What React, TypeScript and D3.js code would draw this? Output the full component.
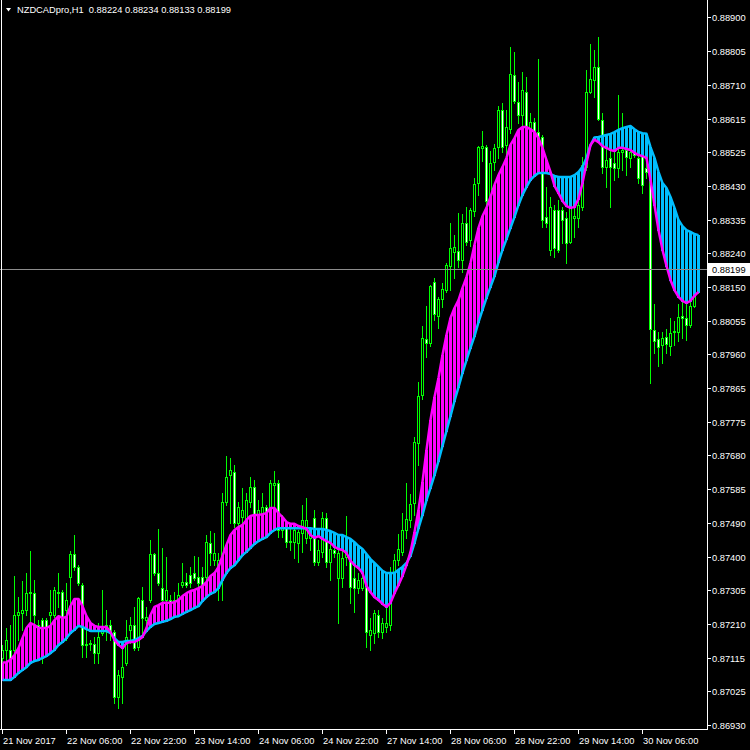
import React from 'react';
import * as d3 from 'd3';

const symbolTitle = 'NZDCADpro,H1';
const lastQuote = [0.88224, 0.88234, 0.88133, 0.88199];
const bidPrice = 0.88199;

const opens = [
  0.87117, 0.87139, 0.87139, 0.87139, 0.87236, 0.87242, 0.87250, 0.87297, 0.87297, 0.87208,
  0.87222, 0.87222, 0.87236, 0.87236, 0.87297, 0.87300, 0.87250, 0.87342, 0.87406, 0.87370,
  0.87320, 0.87153, 0.87156, 0.87156, 0.87130, 0.87186, 0.87203, 0.87208, 0.87189, 0.87008,
  0.87064, 0.87103, 0.87195, 0.87208, 0.87147, 0.87278, 0.87222, 0.87278, 0.87406, 0.87353,
  0.87311, 0.87278, 0.87278, 0.87270, 0.87272, 0.87320, 0.87328, 0.87348, 0.87353, 0.87342,
  0.87342, 0.87342, 0.87437, 0.87389, 0.87356, 0.87362, 0.87551, 0.87626, 0.87634, 0.87492,
  0.87509, 0.87495, 0.87551, 0.87593, 0.87515, 0.87515, 0.87537, 0.87520, 0.87598, 0.87604,
  0.87473, 0.87478, 0.87442, 0.87439, 0.87437, 0.87465, 0.87451, 0.87451, 0.87506, 0.87384,
  0.87412, 0.87506, 0.87384, 0.87417, 0.87339, 0.87339, 0.87398, 0.87395, 0.87339, 0.87311,
  0.87311, 0.87314, 0.87181, 0.87186, 0.87236, 0.87189, 0.87203, 0.87208, 0.87356, 0.87389,
  0.87412, 0.87473, 0.87501, 0.87548, 0.87715, 0.87849, 0.88005, 0.87994, 0.88164, 0.88069,
  0.88116, 0.88141, 0.88208, 0.88247, 0.88250, 0.88225, 0.88328, 0.88280, 0.88361, 0.88439,
  0.88537, 0.88539, 0.88392, 0.88498, 0.88539, 0.88642, 0.88545, 0.88589, 0.88740, 0.88665,
  0.88628, 0.88693, 0.88587, 0.88609, 0.88581, 0.88567, 0.88345, 0.88253, 0.88364, 0.88364,
  0.88364, 0.88342, 0.88275, 0.88342, 0.88342, 0.88372, 0.88484, 0.88693, 0.88726, 0.88762,
  0.88615, 0.88484, 0.88509, 0.88495, 0.88481, 0.88525, 0.88531, 0.88509, 0.88525, 0.88509,
  0.88517, 0.88481, 0.88470, 0.88030, 0.88005, 0.87988, 0.88010, 0.87985, 0.88024, 0.88024,
  0.88069, 0.88063, 0.88044, 0.88097, 0.88224,
];

const highs = [
  0.87153, 0.87200, 0.87208, 0.87345, 0.87286, 0.87331, 0.87353, 0.87414, 0.87334, 0.87222,
  0.87228, 0.87228, 0.87306, 0.87314, 0.87353, 0.87306, 0.87325, 0.87414, 0.87459, 0.87375,
  0.87325, 0.87203, 0.87167, 0.87175, 0.87214, 0.87306, 0.87250, 0.87222, 0.87195, 0.87083,
  0.87147, 0.87222, 0.87231, 0.87259, 0.87286, 0.87314, 0.87259, 0.87445, 0.87409, 0.87476,
  0.87423, 0.87398, 0.87292, 0.87300, 0.87325, 0.87381, 0.87353, 0.87370, 0.87401, 0.87398,
  0.87370, 0.87459, 0.87470, 0.87465, 0.87409, 0.87576, 0.87679, 0.87673, 0.87654, 0.87551,
  0.87590, 0.87576, 0.87621, 0.87612, 0.87556, 0.87576, 0.87543, 0.87612, 0.87637, 0.87612,
  0.87515, 0.87495, 0.87481, 0.87490, 0.87473, 0.87543, 0.87562, 0.87473, 0.87529, 0.87445,
  0.87523, 0.87520, 0.87445, 0.87465, 0.87417, 0.87431, 0.87512, 0.87417, 0.87398, 0.87353,
  0.87395, 0.87395, 0.87228, 0.87250, 0.87250, 0.87228, 0.87259, 0.87370, 0.87406, 0.87462,
  0.87520, 0.87604, 0.87573, 0.87732, 0.87885, 0.88041, 0.88097, 0.88155, 0.88175, 0.88122,
  0.88161, 0.88216, 0.88328, 0.88294, 0.88356, 0.88353, 0.88372, 0.88370, 0.88453, 0.88542,
  0.88584, 0.88545, 0.88528, 0.88548, 0.88654, 0.88662, 0.88642, 0.88818, 0.88804, 0.88720,
  0.88748, 0.88734, 0.88634, 0.88620, 0.88784, 0.88573, 0.88428, 0.88400, 0.88378, 0.88392,
  0.88372, 0.88358, 0.88383, 0.88383, 0.88428, 0.88512, 0.88754, 0.88826, 0.88810, 0.88846,
  0.88634, 0.88559, 0.88573, 0.88559, 0.88684, 0.88634, 0.88545, 0.88539, 0.88551, 0.88523,
  0.88537, 0.88498, 0.88489, 0.88102, 0.88024, 0.88024, 0.88033, 0.88063, 0.88055, 0.88102,
  0.88108, 0.88102, 0.88122, 0.88230, 0.88234,
];

const lows = [
  0.87103, 0.87111, 0.87111, 0.87133, 0.87167, 0.87195, 0.87236, 0.87200, 0.87167, 0.87167,
  0.87103, 0.87189, 0.87203, 0.87231, 0.87259, 0.87231, 0.87167, 0.87231, 0.87362, 0.87320,
  0.87119, 0.87119, 0.87139, 0.87103, 0.87103, 0.87181, 0.87167, 0.87167, 0.86991, 0.86977,
  0.86991, 0.87097, 0.87158, 0.87139, 0.87139, 0.87186, 0.87203, 0.87272, 0.87348, 0.87320,
  0.87272, 0.87270, 0.87270, 0.87264, 0.87270, 0.87314, 0.87314, 0.87314, 0.87334, 0.87306,
  0.87297, 0.87306, 0.87375, 0.87375, 0.87278, 0.87278, 0.87543, 0.87492, 0.87481, 0.87487,
  0.87453, 0.87481, 0.87537, 0.87495, 0.87492, 0.87453, 0.87465, 0.87478, 0.87478, 0.87453,
  0.87453, 0.87426, 0.87417, 0.87395, 0.87384, 0.87412, 0.87437, 0.87417, 0.87375, 0.87375,
  0.87398, 0.87370, 0.87334, 0.87398, 0.87214, 0.87314, 0.87375, 0.87270, 0.87245, 0.87297,
  0.87306, 0.87147, 0.87139, 0.87158, 0.87175, 0.87172, 0.87189, 0.87195, 0.87325, 0.87375,
  0.87403, 0.87451, 0.87481, 0.87515, 0.87654, 0.87838, 0.87955, 0.87985, 0.88058, 0.88035,
  0.88094, 0.88136, 0.88141, 0.88175, 0.88205, 0.88191, 0.88267, 0.88264, 0.88347, 0.88406,
  0.88500, 0.88358, 0.88383, 0.88475, 0.88509, 0.88525, 0.88512, 0.88578, 0.88662, 0.88606,
  0.88595, 0.88587, 0.88537, 0.88567, 0.88559, 0.88317, 0.88317, 0.88239, 0.88233, 0.88247,
  0.88272, 0.88216, 0.88272, 0.88289, 0.88317, 0.88364, 0.88475, 0.88690, 0.88679, 0.88615,
  0.88467, 0.88428, 0.88372, 0.88447, 0.88456, 0.88475, 0.88461, 0.88484, 0.88512, 0.88439,
  0.88411, 0.88453, 0.87882, 0.87966, 0.87930, 0.87938, 0.87966, 0.87960, 0.87988, 0.87999,
  0.88008, 0.88002, 0.88038, 0.88094, 0.88133,
];

const closes = [
  0.87139, 0.87167, 0.87117, 0.87236, 0.87245, 0.87250, 0.87297, 0.87300, 0.87236, 0.87200,
  0.87203, 0.87195, 0.87245, 0.87306, 0.87300, 0.87231, 0.87278, 0.87406, 0.87370, 0.87325,
  0.87153, 0.87156, 0.87158, 0.87130, 0.87175, 0.87203, 0.87208, 0.87189, 0.87008, 0.87069,
  0.87091, 0.87175, 0.87208, 0.87144, 0.87284, 0.87228, 0.87231, 0.87406, 0.87353, 0.87325,
  0.87278, 0.87306, 0.87270, 0.87278, 0.87292, 0.87328, 0.87320, 0.87325, 0.87339, 0.87325,
  0.87320, 0.87439, 0.87409, 0.87409, 0.87389, 0.87551, 0.87621, 0.87640, 0.87492, 0.87537,
  0.87529, 0.87556, 0.87593, 0.87509, 0.87529, 0.87537, 0.87515, 0.87604, 0.87604, 0.87473,
  0.87481, 0.87439, 0.87440, 0.87473, 0.87467, 0.87501, 0.87501, 0.87465, 0.87384, 0.87417,
  0.87506, 0.87384, 0.87420, 0.87409, 0.87409, 0.87395, 0.87412, 0.87314, 0.87311, 0.87334,
  0.87339, 0.87189, 0.87195, 0.87242, 0.87189, 0.87214, 0.87214, 0.87334, 0.87389, 0.87420,
  0.87473, 0.87504, 0.87545, 0.87718, 0.87846, 0.88008, 0.87994, 0.88152, 0.88074, 0.88116,
  0.88144, 0.88211, 0.88258, 0.88261, 0.88225, 0.88328, 0.88275, 0.88364, 0.88436, 0.88539,
  0.88542, 0.88389, 0.88495, 0.88537, 0.88642, 0.88539, 0.88595, 0.88743, 0.88667, 0.88628,
  0.88698, 0.88595, 0.88609, 0.88581, 0.88567, 0.88336, 0.88328, 0.88372, 0.88258, 0.88253,
  0.88336, 0.88272, 0.88372, 0.88347, 0.88378, 0.88489, 0.88693, 0.88729, 0.88762, 0.88617,
  0.88484, 0.88503, 0.88484, 0.88481, 0.88525, 0.88531, 0.88512, 0.88525, 0.88517, 0.88453,
  0.88434, 0.88470, 0.88033, 0.87999, 0.87982, 0.88008, 0.87991, 0.88021, 0.88027, 0.88066,
  0.88063, 0.88044, 0.88097, 0.88219, 0.88199,
];

const fastMA = [
  0.87103, 0.87105, 0.87111, 0.87125, 0.87144, 0.87172, 0.87200, 0.87214, 0.87208, 0.87200,
  0.87200, 0.87200, 0.87206, 0.87222, 0.87233, 0.87228, 0.87231, 0.87261, 0.87281, 0.87281,
  0.87261, 0.87233, 0.87214, 0.87206, 0.87203, 0.87203, 0.87203, 0.87189, 0.87167, 0.87153,
  0.87144, 0.87158, 0.87161, 0.87161, 0.87167, 0.87175, 0.87200, 0.87236, 0.87259, 0.87264,
  0.87270, 0.87270, 0.87270, 0.87272, 0.87278, 0.87289, 0.87297, 0.87303, 0.87306, 0.87311,
  0.87317, 0.87328, 0.87345, 0.87353, 0.87370, 0.87401, 0.87431, 0.87459, 0.87473, 0.87481,
  0.87487, 0.87501, 0.87512, 0.87515, 0.87515, 0.87517, 0.87520, 0.87534, 0.87534, 0.87520,
  0.87509, 0.87495, 0.87490, 0.87490, 0.87484, 0.87481, 0.87476, 0.87459, 0.87451, 0.87456,
  0.87448, 0.87442, 0.87437, 0.87426, 0.87420, 0.87417, 0.87409, 0.87387, 0.87375, 0.87367,
  0.87353, 0.87317, 0.87300, 0.87286, 0.87278, 0.87267, 0.87259, 0.87270, 0.87297, 0.87320,
  0.87345, 0.87375, 0.87412, 0.87467, 0.87529, 0.87607, 0.87696, 0.87779, 0.87843, 0.87896,
  0.87960, 0.88016, 0.88063, 0.88091, 0.88113, 0.88147, 0.88177, 0.88216, 0.88267, 0.88314,
  0.88347, 0.88370, 0.88400, 0.88434, 0.88461, 0.88484, 0.88509, 0.88545, 0.88564, 0.88587,
  0.88595, 0.88595, 0.88589, 0.88581, 0.88564, 0.88537, 0.88503, 0.88470, 0.88431, 0.88411,
  0.88389, 0.88375, 0.88370, 0.88372, 0.88395, 0.88439, 0.88495, 0.88545, 0.88560, 0.88553,
  0.88542, 0.88537, 0.88531, 0.88528, 0.88537, 0.88537, 0.88534, 0.88531, 0.88523, 0.88517,
  0.88514, 0.88509, 0.88448, 0.88378, 0.88308, 0.88253, 0.88208, 0.88169, 0.88141, 0.88122,
  0.88111, 0.88105, 0.88111, 0.88125, 0.88136,
];

const slowMA = [
  0.87055, 0.87055, 0.87055, 0.87064, 0.87075, 0.87083, 0.87091, 0.87103, 0.87108, 0.87111,
  0.87117, 0.87122, 0.87130, 0.87139, 0.87153, 0.87161, 0.87172, 0.87186, 0.87195, 0.87206,
  0.87203, 0.87197, 0.87192, 0.87192, 0.87192, 0.87192, 0.87192, 0.87186, 0.87172, 0.87161,
  0.87161, 0.87164, 0.87164, 0.87167, 0.87172, 0.87178, 0.87192, 0.87203, 0.87211, 0.87214,
  0.87217, 0.87220, 0.87225, 0.87231, 0.87233, 0.87239, 0.87245, 0.87250, 0.87256, 0.87261,
  0.87275, 0.87286, 0.87295, 0.87300, 0.87311, 0.87334, 0.87353, 0.87367, 0.87375, 0.87389,
  0.87403, 0.87412, 0.87423, 0.87434, 0.87442, 0.87448, 0.87453, 0.87465, 0.87473, 0.87478,
  0.87478, 0.87478, 0.87478, 0.87478, 0.87478, 0.87478, 0.87478, 0.87478, 0.87476, 0.87476,
  0.87476, 0.87473, 0.87470, 0.87465, 0.87459, 0.87459, 0.87453, 0.87448, 0.87439, 0.87428,
  0.87420, 0.87406, 0.87392, 0.87381, 0.87370, 0.87359, 0.87353, 0.87353, 0.87353, 0.87362,
  0.87370, 0.87381, 0.87401, 0.87437, 0.87478, 0.87515, 0.87556, 0.87590, 0.87626, 0.87665,
  0.87707, 0.87749, 0.87790, 0.87832, 0.87871, 0.87910, 0.87946, 0.87980, 0.88013, 0.88052,
  0.88086, 0.88119, 0.88150, 0.88180, 0.88219, 0.88253, 0.88283, 0.88314, 0.88345, 0.88378,
  0.88406, 0.88428, 0.88448, 0.88459, 0.88467, 0.88467, 0.88467, 0.88464, 0.88459, 0.88456,
  0.88456, 0.88456, 0.88456, 0.88461, 0.88470, 0.88484, 0.88509, 0.88545, 0.88566, 0.88567,
  0.88570, 0.88573, 0.88576, 0.88581, 0.88587, 0.88592, 0.88595, 0.88598, 0.88589, 0.88581,
  0.88578, 0.88576, 0.88539, 0.88509, 0.88470, 0.88439, 0.88425, 0.88400, 0.88370, 0.88336,
  0.88319, 0.88308, 0.88303, 0.88297, 0.88294,
];

const timeLabels = [
  '21 Nov 2017', '22 Nov 06:00', '22 Nov 22:00', '23 Nov 14:00', '24 Nov 06:00', '24 Nov 22:00',
  '27 Nov 14:00', '28 Nov 06:00', '28 Nov 22:00', '29 Nov 14:00', '30 Nov 06:00',
];
const barsPerTimeLabel = 16;

const priceLabels = [
  '0.88900', '0.88805', '0.88710', '0.88615', '0.88525', '0.88430', '0.88335', '0.88240',
  '0.88150', '0.88055', '0.87960', '0.87865', '0.87775', '0.87680', '0.87585', '0.87490',
  '0.87400', '0.87305', '0.87210', '0.87115', '0.87025', '0.86930',
];

const FONT = '"Liberation Sans", Arial, sans-serif';
const GREEN = '#00ff00';
const MAGENTA = '#ff00ff';
const SKY = '#00bfff';

export default function App() {
  const W = 750;
  const H = 750;
  const plotRight = 707;
  const plotBottom = 729;

  const x = d3.scaleLinear().domain([0, 1]).range([2.5, 6.5]);
  const y = d3.scaleLinear().domain([0.869188, 0.889487]).range([plotBottom, 0]);
  const py = (v: number) => Math.round(y(v));

  const n = opens.length;
  const idx = d3.range(n);

  const candles = idx.map((i) => {
    const cx = x(i);
    const o = opens[i];
    const c = closes[i];
    const top = py(Math.max(o, c));
    const bot = py(Math.min(o, c));
    const bear = c < o;
    return (
      <g key={'c' + i}>
        <line x1={cx} x2={cx} y1={py(highs[i])} y2={py(lows[i]) + 1} stroke={GREEN} strokeWidth={1} />
        {bot > top ? (
          <rect x={cx - 1} y={top + 0.5} width={2} height={bot - top} fill={bear ? '#ffffff' : '#000000'} stroke={GREEN} strokeWidth={1} />
        ) : (
          <line x1={cx - 1.5} x2={cx + 1.5} y1={top + 0.5} y2={top + 0.5} stroke={GREEN} strokeWidth={1} />
        )}
      </g>
    );
  });

  const hist = idx.map((i) => {
    const a = py(fastMA[i]);
    const b = py(slowMA[i]);
    const t = Math.min(a, b);
    const h = Math.abs(a - b) + 1;
    return (
      <rect key={'h' + i} x={x(i) - 1.5} y={t} width={3} height={h} fill={fastMA[i] >= slowMA[i] ? MAGENTA : SKY} />
    );
  });

  const line = d3
    .line<number>()
    .x((_, i) => x(i))
    .y((v) => y(v));

  const firstY = y(parseFloat(priceLabels[0]));
  const lastY = y(parseFloat(priceLabels[priceLabels.length - 1]));
  const stepY = (lastY - firstY) / (priceLabels.length - 1);

  const bidY = py(bidPrice) + 0.5;
  const fmt = (v: number) => v.toFixed(5);

  return (
    <div style={{ position: 'absolute', left: 0, top: 0, width: W, height: H }}>
      <svg width={W} height={H} style={{ display: 'block', background: '#000' }} fontFamily={FONT}>
        <rect x={0} y={0} width={W} height={H} fill="#000" />
        <g shapeRendering="crispEdges">{candles}</g>
        <g shapeRendering="crispEdges">{hist}</g>
        <path d={line(slowMA) || ''} fill="none" stroke={SKY} strokeWidth={2.5} strokeLinejoin="round" />
        <path d={line(fastMA) || ''} fill="none" stroke={MAGENTA} strokeWidth={2.5} strokeLinejoin="round" />

        <g shapeRendering="crispEdges">
          <line x1={0} x2={plotRight} y1={bidY} y2={bidY} stroke="#8c8c8c" strokeWidth={1} />
          <line x1={plotRight + 0.5} x2={plotRight + 0.5} y1={0} y2={plotBottom + 1} stroke="#fff" />
          <line x1={0} x2={plotRight + 1} y1={plotBottom + 0.5} y2={plotBottom + 0.5} stroke="#fff" />
          <line x1={1.5} x2={1.5} y1={0} y2={plotBottom + 1} stroke="#fff" />
          {priceLabels.map((lab, k) => {
            const ty = Math.round(firstY + k * stepY) + 0.5;
            return <line key={'yt' + k} x1={plotRight} x2={plotRight + 4} y1={ty} y2={ty} stroke="#fff" />;
          })}
          {timeLabels.map((lab, k) => {
            const tx = Math.floor(x(k * barsPerTimeLabel)) + 0.5;
            return <line key={'xt' + k} x1={tx} x2={tx} y1={plotBottom} y2={plotBottom + 5} stroke="#fff" />;
          })}
        </g>

        {priceLabels.map((lab, k) => {
          const ty = Math.round(firstY + k * stepY);
          return (
            <text key={'yl' + k} x={712} y={ty + 3.5} fill="#fff" fontSize={9.3}>
              {lab}
            </text>
          );
        })}
        {timeLabels.map((lab, k) => {
          const tx = Math.floor(x(k * barsPerTimeLabel));
          return (
            <text key={'xl' + k} x={tx + 1} y={743.5} fill="#fff" fontSize={9.3}>
              {lab}
            </text>
          );
        })}

        <rect x={708} y={bidY - 6.5} width={42} height={13} fill="#fff" />
        <text x={712} y={bidY + 3.5} fill="#000" fontSize={9.3}>
          {fmt(bidPrice)}
        </text>

        <path d="M6,8 L11,8 L8.5,11.5 Z" fill="#fff" />
        <text x={17} y={13} fill="#fff" fontSize={9.3} style={{ whiteSpace: 'pre' }}>
          {symbolTitle + '  ' + lastQuote.map(fmt).join(' ')}
        </text>
      </svg>
    </div>
  );
}
